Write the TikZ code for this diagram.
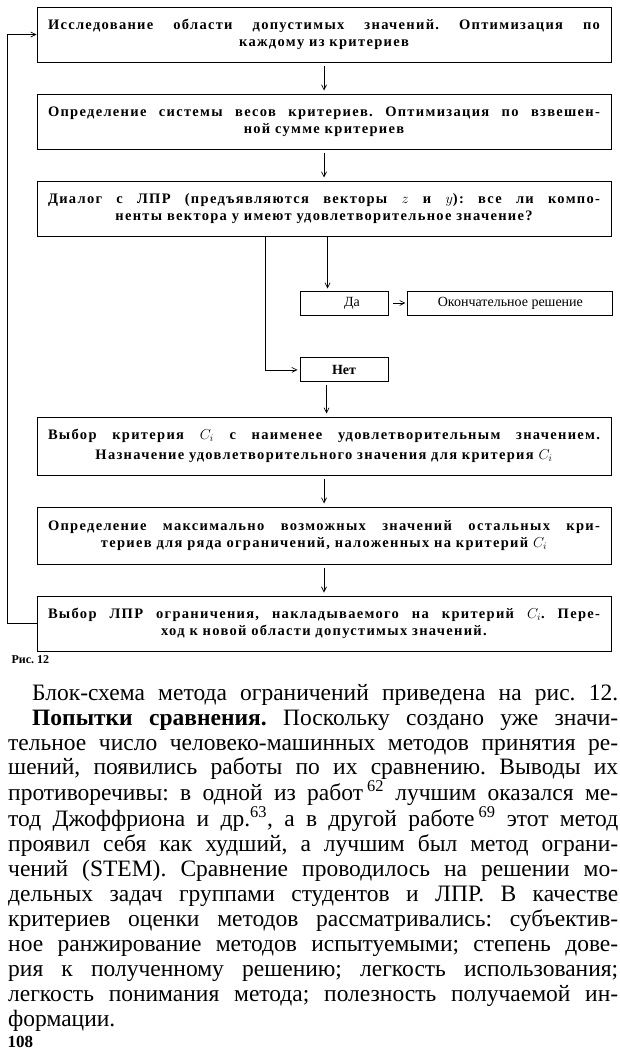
\documentclass[tikz,border=0pt]{standalone}
\usepackage{fontspec}
\setmainfont{Liberation Serif}
\newfontfamily\boxfont[LetterSpace=9]{Liberation Serif}
\usetikzlibrary{arrows.meta,positioning}
\frenchspacing
\newcommand{\fullline}[1]{\makebox[\hsize][s]{\spaceskip=0pt\xspaceskip=0pt\relax#1}}

\begin{document}
\begin{tikzpicture}[
  x=1pt, y=-1pt,
  node distance=31pt,
  stage/.style={rectangle, draw=black, line width=1pt, minimum width=574pt, minimum height=55pt, inner xsep=11pt, inner ysep=0pt, text width=552pt, align=center, font=\boxfont\bfseries\fontsize{14.5}{17}\selectfont},
  answer/.style={rectangle, draw=black, line width=0.9pt, minimum width=88pt, minimum height=24pt, inner sep=0pt, font=\fontsize{14}{15}\selectfont},
  arrow/.style={-{Straight Barb[length=5pt,width=5pt]}, line width=0.7pt, draw=black}
]
\useasboundingbox (0,0) rectangle (620,1055);
\fill[white] (0,0) rectangle (620,1055);

% flowchart
\node[stage] (s1) at (324,34.5) {\fullline{Исследование области допустимых значений. Оптимизация по}\\ каждому из критериев};
\node[stage, below=of s1] (s2) {\fullline{Определение системы весов критериев. Оптимизация по взвешен-}\\ ной сумме критериев};
\node[stage, below=of s2] (s3) {\fullline{Диалог с ЛПР (предъявляются векторы $z$ и $y$): все ли компо-}\\ ненты вектора у имеют удовлетворительное значение?};
\node[answer] (yes) at (344,303) {\hspace*{16pt}Да};
\node[answer, right=19pt of yes, minimum width=205pt] (fin) {Окончательное решение};
\node[answer, below=42pt of yes, font=\bfseries\fontsize{14}{15}\selectfont] (no) {Нет};
\node[stage, below=180pt of s3, minimum height=58pt] (s4) {\fullline{Выбор критерия $C_i$ с наименее удовлетворительным значением.}\\[3pt] Назначение удовлетворительного значения для критерия $C_i$};
\node[stage, below=of s4, minimum height=57pt] (s5) {\fullline{Определение максимально возможных значений остальных кри-}\\ териев для ряда ограничений, наложенных на критерий $C_i$};
\node[stage, below=of s5] (s6) {\fullline{Выбор ЛПР ограничения, накладываемого на критерий $C_i$. Пере-}\\ ход к новой области допустимых значений.};

\draw[arrow, shorten <=3pt, shorten >=3pt] (s1) -- (s2);
\draw[arrow, shorten <=3pt, shorten >=3pt] (s2) -- (s3);
\draw[arrow, shorten >=2pt] ([xshift=28pt]yes.north west |- s3.south) -- ([xshift=28pt]yes.north west);
\draw[arrow, shorten >=2pt] ([xshift=-34pt]no.west |- s3.south) |- (no.west);
\draw[arrow, shorten <=5pt, shorten >=2pt] (yes) -- (fin);
\draw[arrow, shorten <=3pt, shorten >=3pt] ([xshift=27pt]no.south west) -- ([xshift=27pt]no.south west |- s4.north);
\draw[arrow, shorten <=3pt, shorten >=3pt] (s4) -- (s5);
\draw[arrow, shorten <=3pt, shorten >=3pt] (s5) -- (s6);
\draw[arrow] (s6.west) -- ++(-29,0) |- (s1.west);

\node[anchor=west, font=\bfseries\fontsize{12}{14}\selectfont] (cap) at (8,660) {Рис. 12};

% page text
\node[anchor=north west, inner sep=0pt, text width=610pt, font=\fontsize{23.5}{24.9}\selectfont] (body) at (8,684) {%
\fullline{\hspace*{24pt}Блок-схема метода ограничений приведена на рис. 12.}\\
\fullline{\hspace*{24pt}\textbf{Попытки сравнения.} Поскольку создано уже значи-}\\
\fullline{тельное число человеко-машинных методов принятия ре-}\\
\fullline{шений, появились работы по их сравнению. Выводы их}\\
\fullline{противоречивы: в одной из работ\,\textsuperscript{62} лучшим оказался ме-}\\
\fullline{тод Джоффриона и др.\textsuperscript{63}, а в другой работе\,\textsuperscript{69} этот метод}\\
\fullline{проявил себя как худший, а лучшим был метод ограни-}\\
\fullline{чений (STEM). Сравнение проводилось на решении мо-}\\
\fullline{дельных задач группами студентов и ЛПР. В качестве}\\
\fullline{критериев оценки методов рассматривались: субъектив-}\\
\fullline{ное ранжирование методов испытуемыми; степень дове-}\\
\fullline{рия к полученному решению; легкость использования;}\\
\fullline{легкость понимания метода; полезность получаемой ин-}\\
формации.};

\node[anchor=west, font=\bfseries\fontsize{17}{19}\selectfont] (page) at (4,1042) {108};
\end{tikzpicture}
\end{document}
